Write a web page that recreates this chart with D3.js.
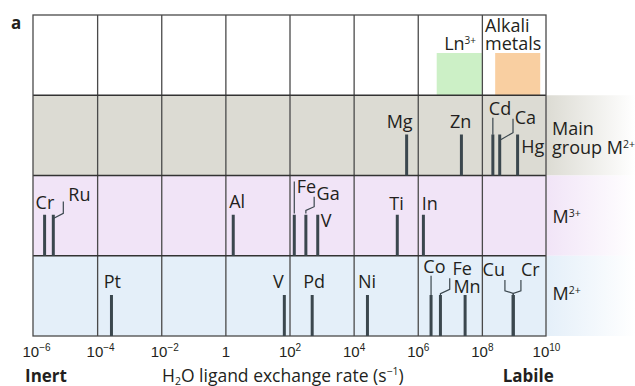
<!DOCTYPE html>
<html><head><meta charset="utf-8">
<script src="https://cdn.jsdelivr.net/npm/d3@7/dist/d3.min.js"></script>
<style>
html,body{margin:0;padding:0;background:#fff;}
svg{display:block;font-family:"Open Sans",sans-serif;}
</style></head>
<body><svg id="c" width="635" height="386"></svg>
<script>
// ---------------- data ----------------
const rows = ["top", "main", "m3", "m2"];
const tickValues = [1e-6, 1e-4, 1e-2, 1, 1e2, 1e4, 1e6, 1e8, 1e10];
const tickBases = ["10", "10", "10", "1", "10", "10", "10", "10", "10"];
const tickExps = ["−6", "−4", "−2", "", "2", "4", "6", "8", "10"];

const mainIons = ["Mg", "Zn", "Cd", "Ca", "Hg"];
const mainRates = [4.5e5, 2.3e7, 2.2e8, 3.6e8, 1.3e9];

const m3Ions = ["Cr", "Ru", "Al", "Fe", "Ga", "V", "Ti", "In"];
const m3Rates = [2.3e-6, 4.3e-6, 1.76, 141, 324, 760, 2.3e5, 1.5e6];

const m2Ions = ["Pt", "V", "Pd", "Ni", "Co", "Fe", "Mn", "Cu", "Cr"];
const m2Rates = [2.8e-4, 69, 510, 2.7e4, 2.6e6, 5.1e6, 3.0e7, 9.5e8, 9.5e8];

const rangeLabels = ["Ln", "Alkali metals"];
const rangeLo = [3.9e6, 2.6e8];
const rangeHi = [1e8, 6.6e9];

// ---------------- layout (positions / styles) ----------------
const W = 635, H = 386;
const plotL = 33, plotR = 546, plotT = 15, plotB = 336;
const barH = 41;
const fs = 18;
const colors = {
  main: "#dcdbd3", m3: "#f1e4f7", m2: "#e4eff9",
  bar: "#3b474e", grid: "#4a4a4a", text: "#231f20",
  ln: "#ccf0c6", alk: "#f9cfa1"
};
// label placement: [dx from bar, baseline from row top, leader points (relative)]
const mainLayout = [
  [-20, 32.5, null],
  [-11.5, 32.5, null],
  [-4, 19.7, [[0, 22.5], [0, 39.5]]],
  [15, 29, [[0.5, 44.7], [13.3, 37.4], [13.3, 23.5]]],
  [3.7, 57.7, null]
];
const m3Layout = [
  [-9, 33.5, null],
  [15, 25.2, [[0.5, 42.8], [10, 37.8], [10, 26]]],
  [-4, 32, null],
  [2.4, 17.2, [[0, 6], [0, 38]]],
  [10.7, 24.5, [[0, 38], [0, 35], [8.3, 31.2], [8.3, 21.2]]],
  [3, 51.2, null],
  [-8, 34.5, null],
  [-1.6, 34.5, null]
];
const m2Layout = [
  [-7.7, 32.5, null],
  [-11.3, 32.3, null],
  [-9, 32, null],
  [-9.4, 32.3, null],
  [-7.7, 17, [[0, 20], [0, 39.5]]],
  [12, 19.2, [[0, 39.5], [0, 38], [9.3, 33.5], [9.3, 22.5]]],
  [-11.7, 37.3, null],
  [-30.6, 20.3, [[0, 39.5], [0, 37.6], [-8.3, 35], [-8.3, 24.3]]],
  [7.7, 20.3, [[0, 39.5], [0, 37.6], [7.7, 35], [7.7, 24.3]]]
];

// ---------------- chart ----------------
const svg = d3.select("#c");
const x = d3.scaleLog().domain([1e-6, 1e10]).range([plotL, plotR]);
const y = d3.scaleBand().domain(rows).range([plotT, plotB]).padding(0);

const defs = svg.append("defs");
["main", "m3", "m2"].forEach(r => {
  const g = defs.append("linearGradient").attr("id", "g-" + r)
    .attr("x1", "0%").attr("x2", "100%").attr("y1", "0%").attr("y2", "0%");
  g.append("stop").attr("offset", "0%").attr("stop-color", colors[r]);
  g.append("stop").attr("offset", "100%").attr("stop-color", "#fff").attr("stop-opacity", 1);
});

// row backgrounds
["main", "m3", "m2"].forEach(r => {
  svg.append("rect").attr("x", plotL).attr("y", y(r)).attr("width", plotR - plotL)
    .attr("height", y.bandwidth()).attr("fill", colors[r]);
  svg.append("rect").attr("x", plotR).attr("y", y(r)).attr("width", W - plotR)
    .attr("height", y.bandwidth()).attr("fill", "url(#g-" + r + ")");
});

// range boxes in top row
const boxTop = y("top") + 38;
rangeLabels.forEach((lab, i) => {
  svg.append("rect").attr("x", x(rangeLo[i])).attr("y", boxTop)
    .attr("width", x(rangeHi[i]) - x(rangeLo[i])).attr("height", y("main") - boxTop)
    .attr("fill", i === 0 ? colors.ln : colors.alk);
});

// grid
const gridAxis = d3.axisBottom(x).tickValues(tickValues.slice(1, -1))
  .tickSize(-(plotB - plotT)).tickFormat("");
const gg = svg.append("g").attr("transform", `translate(0,${plotB})`).call(gridAxis);
gg.select(".domain").remove();
gg.selectAll("line").attr("stroke", colors.grid).attr("stroke-width", 1.3);

// row separators + frame
rows.slice(1).forEach(r => {
  svg.append("line").attr("x1", plotL).attr("x2", plotR).attr("y1", y(r)).attr("y2", y(r))
    .attr("stroke", "#333").attr("stroke-width", 1.3);
});
svg.append("rect").attr("x", plotL).attr("y", plotT).attr("width", plotR - plotL)
  .attr("height", plotB - plotT).attr("fill", "none").attr("stroke", colors.grid).attr("stroke-width", 1.3);

// range labels
const lnT = svg.append("text").attr("x", 476).attr("y", 50).attr("fill", colors.text)
  .attr("font-size", fs).attr("text-anchor", "end");
lnT.append("tspan").text("Ln");
lnT.append("tspan").text("3+").attr("font-size", 10).attr("dy", -6);
const alkT = svg.append("text").attr("fill", colors.text).attr("font-size", fs);
alkT.append("tspan").attr("x", 485).attr("y", 32).text("Alkali");
alkT.append("tspan").attr("x", 485).attr("y", 49.5).text("metals");

// ions
function drawRow(rowKey, ions, rates, layout) {
  const top = y(rowKey), bottom = top + y.bandwidth();
  const g = svg.append("g");
  ions.forEach((ion, i) => {
    const bx = x(rates[i]);
    const [dx, by, leader] = layout[i];
    if (leader) {
      g.append("polyline")
        .attr("points", leader.map(p => [bx + p[0], top + p[1]].join(",")).join(" "))
        .attr("fill", "none").attr("stroke", colors.bar).attr("stroke-width", 1.2);
    }
    g.append("line").attr("x1", bx).attr("x2", bx).attr("y1", bottom - barH).attr("y2", bottom)
      .attr("stroke", colors.bar).attr("stroke-width", 3);
    g.append("text").attr("x", bx + dx).attr("y", top + by).text(ion)
      .attr("fill", colors.text).attr("font-size", fs);
  });
}
drawRow("main", mainIons, mainRates, mainLayout);
drawRow("m3", m3Ions, m3Rates, m3Layout);
drawRow("m2", m2Ions, m2Rates, m2Layout);

// row labels
function supLabel(xp, yp, base, sup) {
  const t = svg.append("text").attr("x", xp).attr("y", yp).attr("fill", colors.text).attr("font-size", fs);
  t.append("tspan").text(base);
  t.append("tspan").text(sup).attr("font-size", 10.5).attr("dy", -6.5);
  return t;
}
svg.append("text").attr("x", 552).attr("y", 135).attr("fill", colors.text).attr("font-size", fs).text("Main");
supLabel(552, 154, "group M", "2+");
supLabel(552.5, 223.3, "M", "3+");
supLabel(552.5, 300, "M", "2+");

// x-axis labels
const labAxis = d3.axisBottom(x).tickValues(tickValues).tickSize(0).tickFormat("");
const la = svg.append("g").attr("transform", `translate(0,${plotB})`).call(labAxis);
la.select(".domain").remove();
la.selectAll(".tick").each(function (d, i) {
  const t = d3.select(this).append("text").attr("fill", colors.text)
    .attr("font-size", 15).attr("y", 20.7).attr("text-anchor", "middle")
    .attr("x", i < 3 ? 3 : 0);
  t.append("tspan").text(tickBases[i]);
  if (tickExps[i] !== "") t.append("tspan").text(tickExps[i]).attr("font-size", 10).attr("dy", -6);
});

// axis title
const at = svg.append("text").attr("x", 162).attr("y", 381.5).attr("fill", colors.text).attr("font-size", 17.5);
at.append("tspan").text("H");
at.append("tspan").text("2").attr("font-size", 10.5).attr("dy", 3);
at.append("tspan").text("O ligand exchange rate (s").attr("dy", -3);
at.append("tspan").text("−1").attr("font-size", 10.5).attr("dy", -6.5);
at.append("tspan").text(")").attr("dy", 6.5);

svg.append("text").attr("x", 25).attr("y", 381.5).attr("font-weight", "bold").attr("font-size", 17)
  .attr("fill", colors.text).text("Inert");
svg.append("text").attr("x", 502.7).attr("y", 381.5).attr("font-weight", "bold").attr("font-size", 17)
  .attr("fill", colors.text).text("Labile");
svg.append("text").attr("x", 11).attr("y", 28.5).attr("font-weight", "bold").attr("font-size", 17)
  .attr("fill", colors.text).text("a");
</script></body></html>
